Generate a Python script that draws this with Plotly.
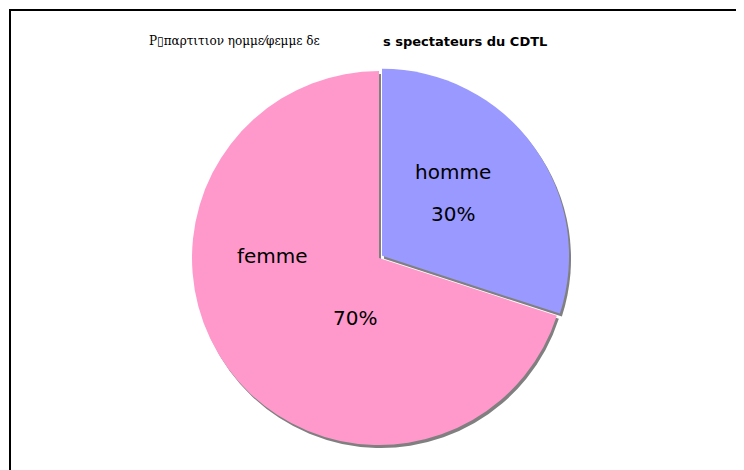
import plotly.graph_objects as go

categories = ["homme", "femme"]
values = [30, 70]
colors = ["#9999FF", "#FF99CC"]
label_pos = [(453, 172, 453, 214), (272, 256, 355, 318)]  # px positions of name / percent labels

W, H = 744, 470
OFF = 8  # page body margin
cx, cy, r = 379 - OFF, 258 - OFF, 187
pull = [0.02, 0]
scale = 1 + max(pull)

def dom(dx=0, dy=0):
    rr = r * scale
    return dict(x=[(cx - rr + dx) / W, (cx + rr + dx) / W],
                y=[1 - (cy + rr + dy) / H, 1 - (cy - rr + dy) / H])

def px(x, y):
    return (x - OFF) / W, 1 - (y - OFF) / H

fig = go.Figure()
# shadow
fig.add_trace(go.Pie(labels=categories, values=values, sort=False, direction="clockwise",
                     rotation=0, pull=pull, marker=dict(colors=["#808080", "#808080"], line=dict(width=0)),
                     textinfo="none", hoverinfo="skip", showlegend=False, domain=dom(2, 3)))
fig.add_trace(go.Pie(labels=categories, values=values, sort=False, direction="clockwise",
                     rotation=0, pull=pull, marker=dict(colors=colors, line=dict(width=0)),
                     textinfo="none", showlegend=False, domain=dom()))

total = sum(values)
annotations = []
lab_font = dict(family="DejaVu Sans", size=20, color="black")
for cat, v, (lx, ly, qx, qy) in zip(categories, values, label_pos):
    x, y = px(lx, ly)
    annotations.append(dict(x=x, y=y, xref="paper", yref="paper", text=cat,
                            showarrow=False, font=lab_font))
    x, y = px(qx, qy)
    annotations.append(dict(x=x, y=y, xref="paper", yref="paper",
                            text=f"{round(100 * v / total)}%",
                            showarrow=False, font=lab_font))

x, y = px(147, 41)
annotations.append(dict(x=x, y=y, xref="paper", yref="paper", xanchor="left", yanchor="middle",
                        text="Ρ▯παρτιτιον ηομμε⁄φεμμε δε",
                        showarrow=False, font=dict(family="DejaVu Serif", size=12, color="black")))
x, y = px(381, 41)
annotations.append(dict(x=x, y=y, xref="paper", yref="paper", xanchor="left", yanchor="middle",
                        text="<b>s spectateurs du CDTL</b>",
                        showarrow=False, font=dict(family="DejaVu Sans", size=13, color="black")))

fig.update_layout(
    width=W, height=H, margin=dict(l=0, r=0, t=0, b=0),
    paper_bgcolor="white", plot_bgcolor="white",
    annotations=annotations,
    shapes=[dict(type="rect", xref="paper", yref="paper",
                 x0=(10 - OFF) / W, x1=1.05, y0=-0.05, y1=1 - (10 - OFF) / H,
                 line=dict(color="black", width=2), fillcolor="rgba(0,0,0,0)", layer="above")],
)
fig.write_html("out.html")
